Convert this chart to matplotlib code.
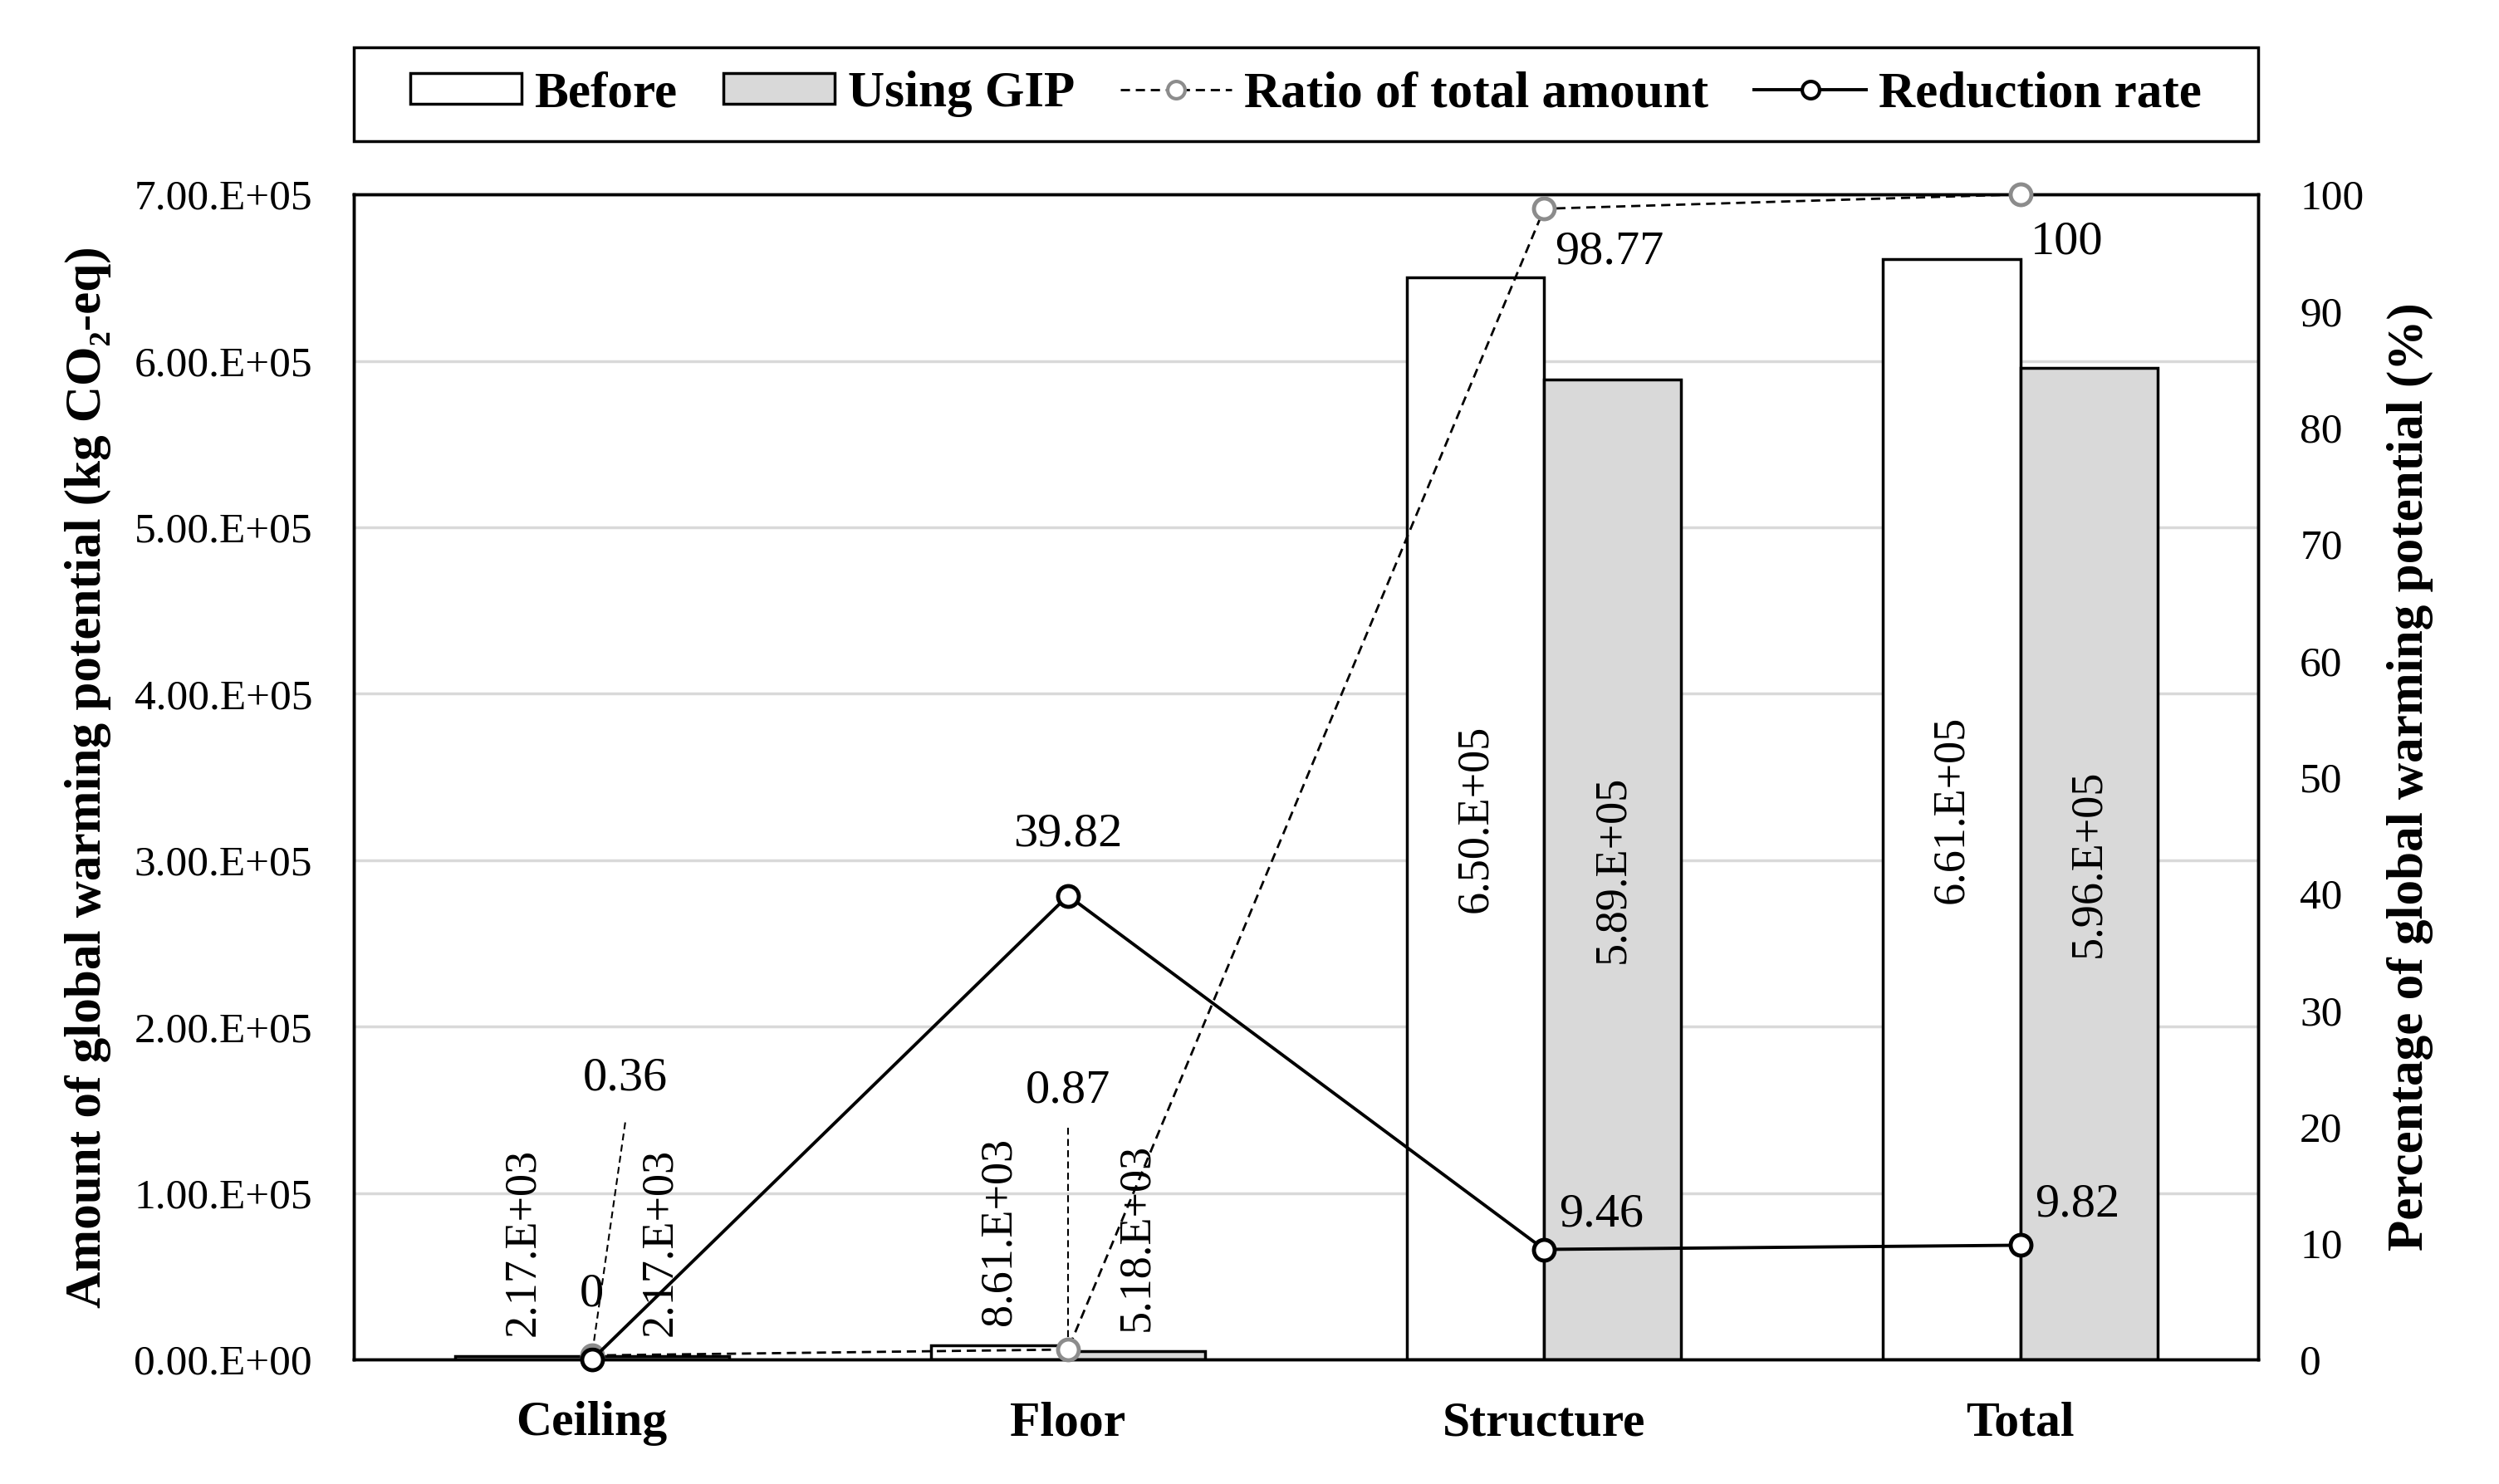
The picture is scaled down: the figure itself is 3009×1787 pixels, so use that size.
import matplotlib.pyplot as plt
from matplotlib.patches import Rectangle
from matplotlib.lines import Line2D
import numpy as np

plt.rcParams['font.family'] = ['Liberation Serif', 'DejaVu Serif']

# data
categories = ['Ceiling', 'Floor', 'Structure', 'Total']
before = [2.17e3, 8.61e3, 6.50e5, 6.61e5]
using_gip = [2.17e3, 5.18e3, 5.89e5, 5.96e5]
ratio_total = [0.36, 0.87, 98.77, 100]
reduction_rate = [0, 39.82, 9.46, 9.82]


def sci_label(v):
    """Excel-like label, e.g. 6.50.E+05"""
    if v == 0:
        return '0.00.E+00'
    e = int(np.floor(np.log10(abs(v)) + 1e-9))
    return f'{v / 10**e:.2f}.E+{e:02d}'


fig = plt.figure(figsize=(30.09, 17.87), dpi=100)
ax = fig.add_axes([0.1416, 0.0838, 0.7621, 0.7852])

x = np.arange(len(categories))
w = 0.288
ax.bar(x - w / 2, before, w, color='white', edgecolor='black', linewidth=2.5, zorder=2)
ax.bar(x + w / 2, using_gip, w, color='#d9d9d9', edgecolor='black', linewidth=2.5, zorder=2)

ax.set_xlim(-0.5, 3.5)
ax.set_ylim(0, 7e5)
yt = np.arange(0, 7.01e5, 1e5)
ax.set_yticks(yt)
ax.set_yticklabels([sci_label(v) for v in yt])
ax.yaxis.grid(True, color='#d9d9d9', linewidth=2.5)
ax.set_axisbelow(True)
ax.set_xticks(x)
ax.set_xticklabels(categories, fontweight='bold', fontsize=43)
ax.tick_params(axis='y', length=0, labelsize=37, pad=36)
ax.tick_params(axis='x', length=0, pad=36)
ax.set_ylabel('Amount of global warming potential (kg CO\u2082-eq)', fontsize=44,
              fontweight='bold', labelpad=20)
for s in ax.spines.values():
    s.set_linewidth(2.5)

# bar value labels
for i in range(len(categories)):
    for xi, v in ((x[i] - w / 2, before[i]), (x[i] + w / 2, using_gip[i])):
        if v > 1e5:
            ax.text(xi, v / 2, sci_label(v), rotation=90, ha='center', va='center',
                    fontsize=39, zorder=5)
        else:
            ax.text(xi, v + 1.2e4, sci_label(v), rotation=90, ha='center', va='bottom',
                    fontsize=39, zorder=5)

ax2 = ax.twinx()
ax2.set_ylim(0, 100)
ax2.set_yticks(np.arange(0, 101, 10))
ax2.tick_params(axis='y', length=0, labelsize=37, pad=36)
ax2.set_ylabel('Percentage of global warming potential (%)', fontsize=44,
               fontweight='bold', labelpad=20)
for s in ax2.spines.values():
    s.set_linewidth(2.5)

ax2.plot(x, ratio_total, linestyle=(0, (4, 2.5)), color='black', linewidth=2,
         marker='o', markersize=18, markerfacecolor='white', markeredgecolor='#8c8c8c',
         markeredgewidth=3.5, zorder=3, clip_on=False)
ax2.plot(x, reduction_rate, linestyle='-', color='black', linewidth=2.8,
         marker='o', markersize=18, markerfacecolor='white', markeredgecolor='black',
         markeredgewidth=3.5, zorder=4, clip_on=False)

# line value labels (offsets in data units)
lab_kw = dict(fontsize=42, ha='center', va='center', zorder=6)
ax2.text(x[0] + 0.07, ratio_total[0] + 23.8, f'{ratio_total[0]:.2f}', **lab_kw)
ax2.plot([x[0] + 0.07, x[0]], [ratio_total[0] + 20, ratio_total[0]], linestyle=(0, (4, 2.5)),
         color='black', linewidth=1.5)
ax2.text(x[1], ratio_total[1] + 22.2, f'{ratio_total[1]:.2f}', **lab_kw)
ax2.plot([x[1], x[1]], [ratio_total[1] + 19, ratio_total[1]], linestyle=(0, (4, 2.5)),
         color='black', linewidth=1.5)
ax2.text(x[2] + 0.137, ratio_total[2] - 3.7, f'{ratio_total[2]:.2f}', **lab_kw)
ax2.text(x[3] + 0.097, ratio_total[3] - 4.1, f'{ratio_total[3]:g}', **lab_kw)

ax2.text(x[0], reduction_rate[0] + 5.6, f'{reduction_rate[0]:g}', **lab_kw)
ax2.text(x[1], reduction_rate[1] + 5.3, f'{reduction_rate[1]:.2f}', **lab_kw)
ax2.text(x[2] + 0.12, reduction_rate[2] + 3.0, f'{reduction_rate[2]:.2f}', **lab_kw)
ax2.text(x[3] + 0.12, reduction_rate[3] + 3.5, f'{reduction_rate[3]:.2f}', **lab_kw)

# legend in a box spanning the plot width
fig.patches.append(Rectangle((0.1416, 0.905), 0.7621, 0.063, transform=fig.transFigure,
                             facecolor='white', edgecolor='black', linewidth=2.5))
handles = [
    Rectangle((0, 0), 1, 1, facecolor='white', edgecolor='black', linewidth=2.5),
    Rectangle((0, 0), 1, 1, facecolor='#d9d9d9', edgecolor='black', linewidth=2.5),
    Line2D([], [], linestyle=(0, (4, 2.5)), color='black', linewidth=2, marker='o',
           markersize=15, markerfacecolor='white', markeredgecolor='#8c8c8c', markeredgewidth=3),
    Line2D([], [], linestyle='-', color='black', linewidth=2.8, marker='o',
           markersize=15, markerfacecolor='white', markeredgecolor='black', markeredgewidth=3),
]
fig.legend(handles, ['Before', 'Using GIP', 'Ratio of total amount', 'Reduction rate'],
           loc='center', bbox_to_anchor=(0.5226, 0.9365), ncol=4, frameon=False,
           prop={'weight': 'bold', 'size': 44}, handlelength=2.2, handleheight=0.55,
           handletextpad=0.25, columnspacing=0.9)

fig.savefig('out.png', dpi=100)
